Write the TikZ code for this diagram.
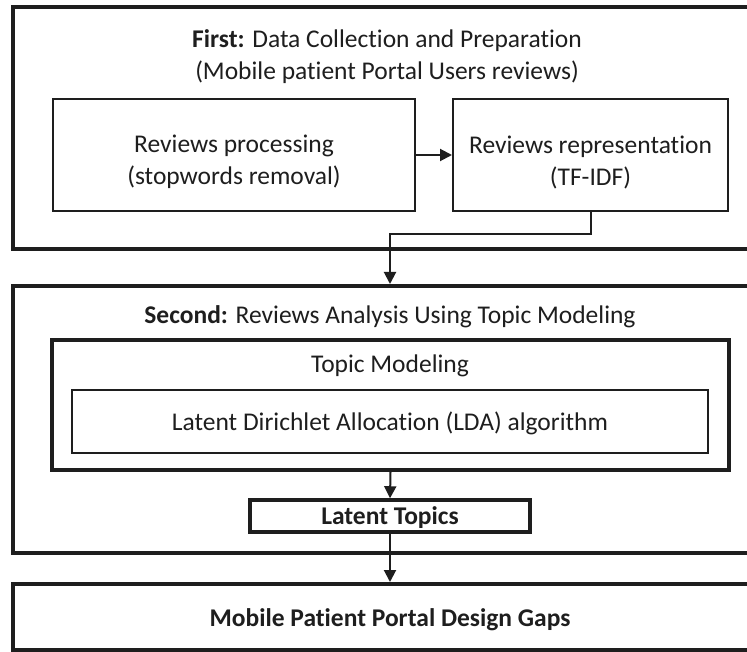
\documentclass[tikz,border=0pt]{standalone}
\usepackage{fontspec}
\setmainfont{Carlito}[Ligatures={NoCommon}]
\usetikzlibrary{arrows.meta}
\definecolor{ink}{HTML}{1E1E1E}
\tikzset{
  stage/.style={draw=ink, line width=4pt, inner sep=0pt},
  stepbox/.style={draw=ink, line width=2pt, inner sep=0pt},
  label/.style={inner sep=0pt, align=center, text=ink},
  flow/.style={draw=ink, line width=2pt, -{Triangle[length=12pt,width=12pt]}},
}
\begin{document}
\begin{tikzpicture}[x=1pt, y=-1pt, font=\fontsize{25.5}{32}\selectfont]
\useasboundingbox (0,0) rectangle (747,652);
\clip (0,0) rectangle (747,652);
\fill[white] (0,0) rectangle (747,652);

% first stage: data collection and preparation
\node[stage, minimum width=754pt, minimum height=242pt] (first) at (390,128) {};
\node[label] (firsttitle) at (387,57) {\textbf{First:} Data Collection and Preparation\\(Mobile patient Portal Users reviews)};
\node[stepbox, minimum width=362pt, minimum height=112pt] (proc) at (234,155) {};
\node[label] (proctext) at ([yshift=-7pt]proc.center) {Reviews processing\\(stopwords removal)};
\node[stepbox, minimum width=275pt, minimum height=112pt] (repr) at (590.5,155) {};
\node[label] (reprtext) at ([yshift=-7pt]repr.center) {Reviews representation\\(TF-IDF)};

% second stage: topic modelling
\node[stage, minimum width=754pt, minimum height=267pt] (second) at (390,419.5) {};
\node[label] (secondtitle) at (390,317) {\textbf{Second:} Reviews Analysis Using Topic Modeling};
\node[stage, minimum width=677pt, minimum height=130pt] (topic) at (390.5,405) {};
\node[label] (topictitle) at (390,366) {Topic Modeling};
\node[stepbox, line width=2.5pt, minimum width=636pt, minimum height=63pt] (lda) at (390,421.5) {};
\node[label] (ldatext) at ([yshift=-2pt]lda.center) {Latent Dirichlet Allocation (LDA) algorithm};
\node[stage, line width=3.5pt, minimum width=280pt, minimum height=32pt] (latent) at (390,516) {};
\node[label] (latenttext) at ([yshift=-2pt]latent.center) {\textbf{Latent Topics}};

% outcome
\node[stage, minimum width=754pt, minimum height=66pt] (gaps) at (390,617) {};
\node[label] (gapstext) at ([yshift=-3pt]gaps.center) {\textbf{Mobile Patient Portal Design Gaps}};

% connectors
\draw[flow] (proc.east) -- (repr.west);
\draw[flow] (repr.south) -- ++(0,22) -| (second.north);
\draw[flow] (topic.south) -- (latent.north);
\draw[flow] (latent.south) -- (gaps.north);
\end{tikzpicture}
\end{document}
